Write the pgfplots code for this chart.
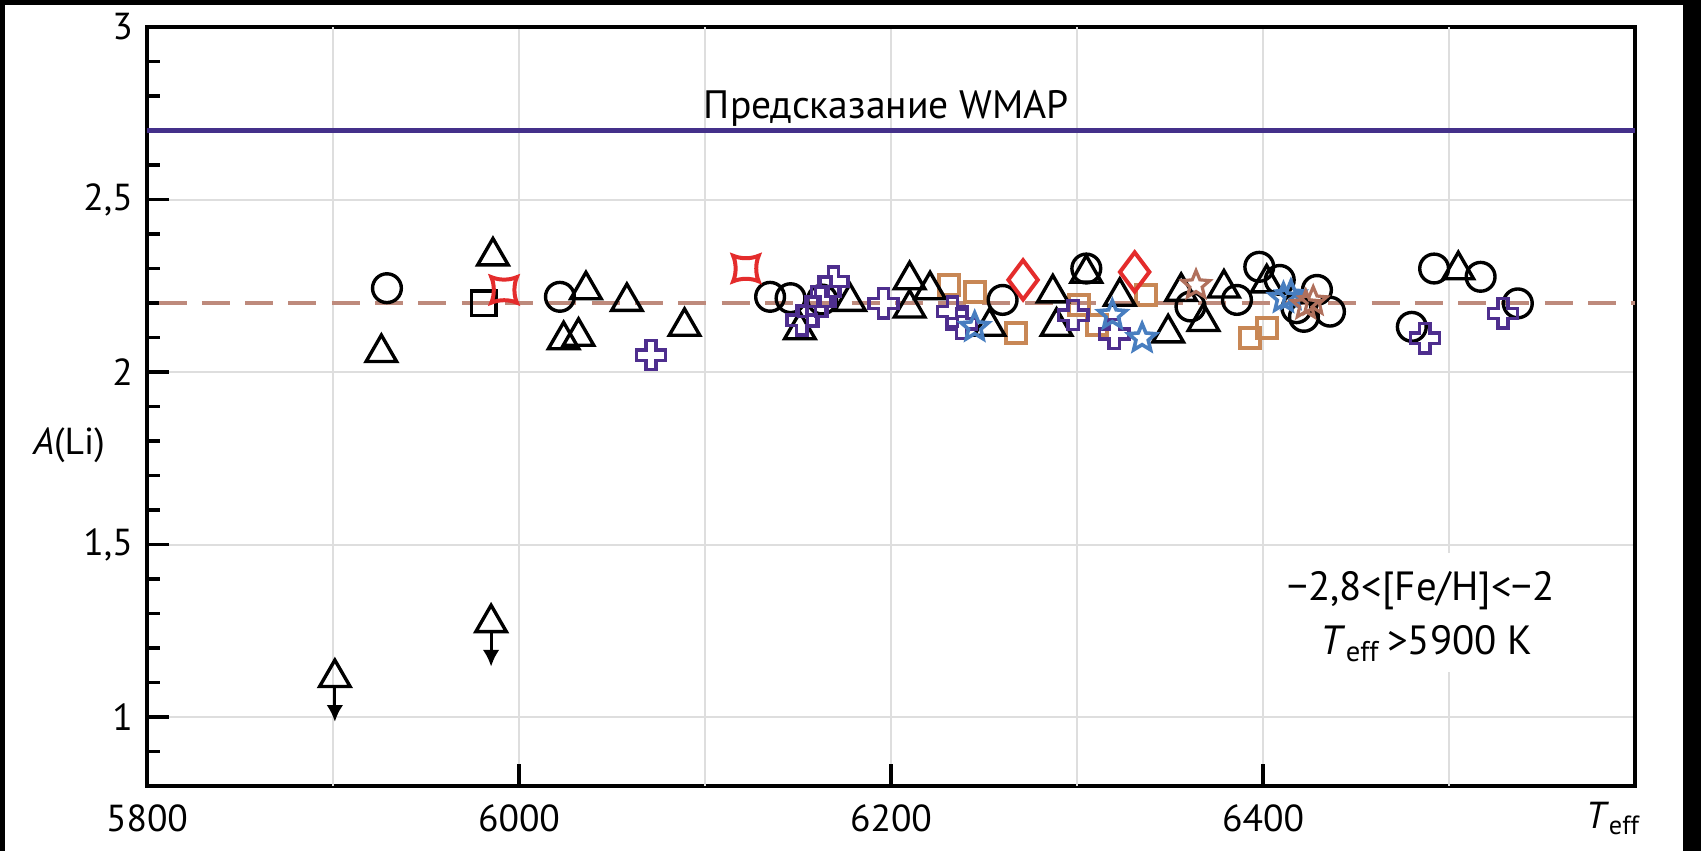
\documentclass[border=0pt]{standalone}
\usepackage{fontspec}
\setmainfont{PT Sans}
\usepackage{pgfplots}
\pgfplotsset{compat=1.18}
\usetikzlibrary{arrows.meta}

\definecolor{wmap}{RGB}{68,48,138}
\definecolor{dashc}{RGB}{190,138,124}
\definecolor{redm}{RGB}{228,44,44}
\definecolor{tanm}{RGB}{200,135,85}
\definecolor{bluem}{RGB}{72,126,192}
\definecolor{brownm}{RGB}{176,112,92}
\definecolor{purm}{RGB}{78,46,142}
\definecolor{gridc}{RGB}{222,222,222}

% outlined greek cross
\pgfdeclareplotmark{ocross}{%
  \pgfpathmoveto{\pgfqpoint{0.35\pgfplotmarksize}{\pgfplotmarksize}}%
  \pgfpathlineto{\pgfqpoint{-0.35\pgfplotmarksize}{\pgfplotmarksize}}%
  \pgfpathlineto{\pgfqpoint{-0.35\pgfplotmarksize}{0.35\pgfplotmarksize}}%
  \pgfpathlineto{\pgfqpoint{-\pgfplotmarksize}{0.35\pgfplotmarksize}}%
  \pgfpathlineto{\pgfqpoint{-\pgfplotmarksize}{-0.35\pgfplotmarksize}}%
  \pgfpathlineto{\pgfqpoint{-0.35\pgfplotmarksize}{-0.35\pgfplotmarksize}}%
  \pgfpathlineto{\pgfqpoint{-0.35\pgfplotmarksize}{-\pgfplotmarksize}}%
  \pgfpathlineto{\pgfqpoint{0.35\pgfplotmarksize}{-\pgfplotmarksize}}%
  \pgfpathlineto{\pgfqpoint{0.35\pgfplotmarksize}{-0.35\pgfplotmarksize}}%
  \pgfpathlineto{\pgfqpoint{\pgfplotmarksize}{-0.35\pgfplotmarksize}}%
  \pgfpathlineto{\pgfqpoint{\pgfplotmarksize}{0.35\pgfplotmarksize}}%
  \pgfpathlineto{\pgfqpoint{0.35\pgfplotmarksize}{0.35\pgfplotmarksize}}%
  \pgfpathclose\pgfusepathqstroke}

% outlined five-point star
\pgfdeclareplotmark{ostar}{%
  \pgfpathmoveto{\pgfpointpolar{90}{\pgfplotmarksize}}%
  \pgfpathlineto{\pgfpointpolar{126}{0.45\pgfplotmarksize}}%
  \pgfpathlineto{\pgfpointpolar{162}{\pgfplotmarksize}}%
  \pgfpathlineto{\pgfpointpolar{198}{0.45\pgfplotmarksize}}%
  \pgfpathlineto{\pgfpointpolar{234}{\pgfplotmarksize}}%
  \pgfpathlineto{\pgfpointpolar{270}{0.45\pgfplotmarksize}}%
  \pgfpathlineto{\pgfpointpolar{306}{\pgfplotmarksize}}%
  \pgfpathlineto{\pgfpointpolar{342}{0.45\pgfplotmarksize}}%
  \pgfpathlineto{\pgfpointpolar{18}{\pgfplotmarksize}}%
  \pgfpathlineto{\pgfpointpolar{54}{0.45\pgfplotmarksize}}%
  \pgfpathclose\pgfusepathqstroke}

% square with slightly concave sides
\pgfdeclareplotmark{csquare}{%
  \pgfpathmoveto{\pgfqpoint{\pgfplotmarksize}{\pgfplotmarksize}}%
  \pgfpathcurveto{\pgfqpoint{0.4\pgfplotmarksize}{0.74\pgfplotmarksize}}{\pgfqpoint{-0.4\pgfplotmarksize}{0.74\pgfplotmarksize}}{\pgfqpoint{-\pgfplotmarksize}{\pgfplotmarksize}}%
  \pgfpathcurveto{\pgfqpoint{-0.74\pgfplotmarksize}{0.4\pgfplotmarksize}}{\pgfqpoint{-0.74\pgfplotmarksize}{-0.4\pgfplotmarksize}}{\pgfqpoint{-\pgfplotmarksize}{-\pgfplotmarksize}}%
  \pgfpathcurveto{\pgfqpoint{-0.4\pgfplotmarksize}{-0.74\pgfplotmarksize}}{\pgfqpoint{0.4\pgfplotmarksize}{-0.74\pgfplotmarksize}}{\pgfqpoint{\pgfplotmarksize}{-\pgfplotmarksize}}%
  \pgfpathcurveto{\pgfqpoint{0.74\pgfplotmarksize}{-0.4\pgfplotmarksize}}{\pgfqpoint{0.74\pgfplotmarksize}{0.4\pgfplotmarksize}}{\pgfqpoint{\pgfplotmarksize}{\pgfplotmarksize}}%
  \pgfpathclose\pgfusepathqstroke}

\begin{document}
\begin{tikzpicture}
\fill[black] (-36.75pt,-16.25pt) rectangle (388.5pt,196.5pt);
\fill[white] (-35.5pt,-16.25pt) rectangle (384pt,195.25pt);
\begin{axis}[
  at={(0pt,0pt)}, anchor=south west,
  scale only axis, width=372pt, height=189.75pt,
  xmin=5800, xmax=6600, ymin=0.8, ymax=3,
  font=\fontsize{9.4}{11}\selectfont,
  xtick={5800,6000,6200,6400}, xticklabels={5800,6000,6200,6400},
  extra x ticks={5900,6100,6300,6500}, extra x tick labels={},
  extra x tick style={major tick length=0pt},
  ytick={1,1.5,2,2.5,3}, yticklabels={1,{1,5},2,{2,5},3},
  minor ytick={0.9,1.1,1.2,1.3,1.4,1.6,1.7,1.8,1.9,2.1,2.2,2.3,2.4,2.6,2.7,2.8,2.9},
  tick pos=left, tick align=inside,
  major tick length=5.5pt, minor tick length=3.25pt,
  every tick/.style={black, line width=0.8pt},
  xmajorgrids, ymajorgrids,
  major grid style={gridc, line width=0.5pt},
  axis line style={black, line width=0.8pt},
  xticklabel style={yshift=-1.2pt},
  xlabel={\textit{T}\textsubscript{eff}},
  xlabel style={at={(axis description cs:0.9855,0)}, anchor=base, yshift=-10.5pt, inner sep=0pt},
  ylabel={\textit{A}(Li)},
  ylabel style={rotate=-90, at={(axis description cs:-0.0524,0.449)}, anchor=center},
]
% reference lines
\addplot[wmap, line width=1.1pt] coordinates {(5800,2.7) (6600,2.7)};
\addplot[dashc, line width=0.8pt, dash pattern=on 7pt off 3.83pt, dash phase=7.95pt] coordinates {(5800,2.2) (6600,2.2)};

% tan squares
\addplot[only marks, mark=square, mark size=2.5pt, mark options={tanm, line width=1pt}] table {
x y
6231 2.252
6245 2.233
6267 2.112
6301 2.194
6311 2.136
6337 2.223
6393 2.098
6402 2.127
};
% black circles
\addplot[only marks, mark=o, mark size=3.6pt, mark options={black, line width=0.85pt}] table {
x y
5929 2.243
6022 2.218
6135 2.218
6146 2.214
6163 2.210
6260 2.209
6305 2.300
6361 2.190
6386 2.209
6398 2.305
6409 2.267
6418 2.185
6422 2.160
6429 2.238
6436 2.175
6480 2.131
6492 2.300
6517 2.276
6537 2.199
};
% black triangles
\addplot[only marks, mark=triangle, mark size=4.4pt, mark options={black, line width=0.85pt}] table {
x y
5926 2.056
5986 2.336
6024 2.093
6032 2.103
6036 2.238
6058 2.204
6089 2.132
6151 2.122
6178 2.204
6210 2.267
6210 2.185
6221 2.238
6253 2.132
6287 2.229
6289 2.132
6305 2.286
6323 2.219
6349 2.113
6356 2.233
6368 2.146
6379 2.243
6402 2.258
6505 2.296
5901 1.114
5985 1.273
};
% upper-limit arrows
\addplot[black, line width=0.8pt, -{Latex[length=4.2pt,width=4.2pt]},
  quiver={u=\thisrow{u}, v=\thisrow{v}}] table {
x y u v
5901 1.088 0 -0.102
5985 1.247 0 -0.101
};
% black square
\addplot[only marks, mark=square, mark size=3.1pt, mark options={black, line width=0.85pt}] table {
x y
5981 2.199
};
% purple crosses
\addplot[only marks, mark=ocross, mark size=3.65pt, mark options={purm, line width=0.85pt}] table {
x y
6071 2.049
6152 2.150
6158 2.175
6162 2.204
6165 2.233
6169 2.262
6196 2.199
6233 2.175
6238 2.140
6298 2.165
6320 2.110
6487 2.098
6529 2.170
};
% blue stars
\addplot[only marks, mark=ostar, mark size=3.6pt, mark options={bluem, line width=0.9pt}] table {
x y
6245 2.130
6319 2.165
6335 2.098
6411 2.214
6415 2.222
};
% brown stars
\addplot[only marks, mark=ostar, mark size=3.6pt, mark options={brownm, line width=0.8pt}] table {
x y
6364 2.252
6423 2.194
6427 2.205
};
% red concave squares
\addplot[only marks, mark=csquare, mark size=3.2pt, mark options={redm, line width=1pt}] table {
x y
5992 2.238
6122 2.300
};
% red diamonds
\addplot[only marks, mark=diamond, mark size=4.9pt, mark options={redm, line width=1pt}] table {
x y
6271 2.267
6331 2.290
};

\node[anchor=base west, inner sep=0pt, font=\fontsize{9.9}{12}\selectfont] at (axis cs:6099,2.736) {Предсказание WMAP};
\fill[white] (axis cs:6415,1.13) rectangle (axis cs:6578,1.475);
\node[anchor=base, inner sep=0pt, font=\fontsize{10.2}{12}\selectfont] at (axis cs:6485,1.339) {−2,8<[Fe/H]<−2};
\node[anchor=base, inner sep=0pt, font=\fontsize{10.2}{12}\selectfont] at (axis cs:6488,1.18) {\textit{T}\textsubscript{eff}\,>5900 K};
\end{axis}
\pgfresetboundingbox
\path (-36.75pt,-16.25pt) rectangle (388.5pt,196.5pt);
\end{tikzpicture}
\end{document}
